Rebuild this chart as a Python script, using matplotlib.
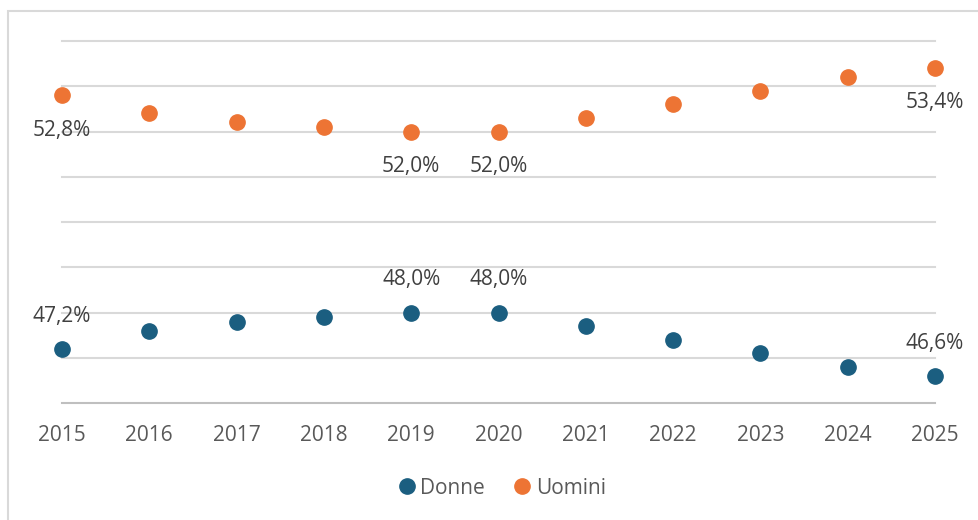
import matplotlib.pyplot as plt
from matplotlib.patches import Rectangle

anni = [2015, 2016, 2017, 2018, 2019, 2020, 2021, 2022, 2023, 2024, 2025]
donne = [47.2, 47.6, 47.8, 47.9, 48.0, 48.0, 47.7, 47.4, 47.1, 46.8, 46.6]
uomini = [52.8, 52.4, 52.2, 52.1, 52.0, 52.0, 52.3, 52.6, 52.9, 53.2, 53.4]
etichette = [2015, 2019, 2020, 2025]

col_donne = '#1b5e80'
col_uomini = '#ed7434'

plt.rcParams['font.family'] = ['Open Sans', 'DejaVu Sans']

fig = plt.figure(figsize=(9.79, 5.20), dpi=100)
ax = fig.add_axes([62/979, 1 - 403/520, 873/979, 362/520])

# light frame around the chart (cut at right and bottom)
fig.patches.append(Rectangle((8/979, -0.05), 1.1, 1 - 11/520 + 0.05,
                             transform=fig.transFigure, fill=False,
                             edgecolor='#d9d9d9', linewidth=1.5))

for yv in range(47, 55):
    ax.axhline(yv, color='#d9d9d9', linewidth=1.5, zorder=0, clip_on=False)

ax.plot(anni, donne, 'o', color=col_donne, markersize=11, clip_on=False,
        label='Donne', zorder=3)
ax.plot(anni, uomini, 'o', color=col_uomini, markersize=11, clip_on=False,
        label='Uomini', zorder=3)

for a, d, u in zip(anni, donne, uomini):
    if a in etichette:
        ax.annotate(f'{d:.1f}%'.replace('.', ','), (a, d), xytext=(0, 23.5),
                    textcoords='offset points', ha='center', va='center',
                    fontsize=15, color='#404040')
        ax.annotate(f'{u:.1f}%'.replace('.', ','), (a, u), xytext=(0, -25),
                    textcoords='offset points', ha='center', va='center',
                    fontsize=15, color='#404040')

ax.set_xlim(2015, 2025)
ax.set_ylim(46, 54)
ax.set_xticks(anni)
ax.set_xticklabels([str(a) for a in anni], fontsize=15, color='#595959')
ax.set_yticks([])
ax.tick_params(axis='x', length=0, pad=16)
for s in ['top', 'right', 'left']:
    ax.spines[s].set_visible(False)
ax.spines['bottom'].set_color('#bfbfbf')
ax.spines['bottom'].set_linewidth(1.5)

leg = fig.legend(loc='center', bbox_to_anchor=(500/979, 1 - 488/520), ncol=2,
                 frameon=False, fontsize=15, handletextpad=0.05,
                 columnspacing=1.2, markerscale=1.0, handlelength=1.2)
for t in leg.get_texts():
    t.set_color('#595959')

fig.savefig('out.png', dpi=100)
